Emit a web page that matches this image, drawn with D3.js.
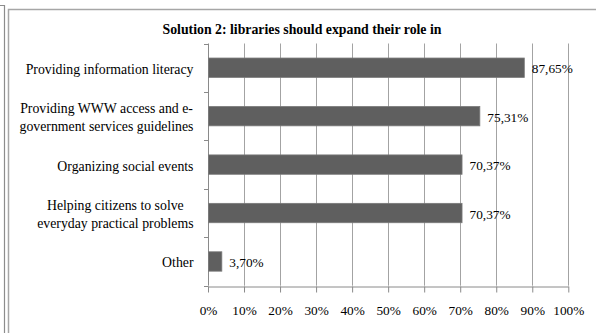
<!DOCTYPE html>
<html>
<head>
<meta charset="utf-8">
<script src="https://cdn.jsdelivr.net/npm/d3@7"></script>
<style>
  html, body { margin: 0; padding: 0; background: #fff; }
  svg { display: block; }
  text { font-family: "Liberation Serif", "Times New Roman", serif; fill: #000; }
</style>
</head>
<body>
<svg id="chart" width="596" height="333"></svg>
<script>
// Survey answers: share of respondents per proposed role
const title = "Solution 2: libraries should expand their role in";
const categories = [
  "Providing information literacy",
  "Providing WWW access and e-\ngovernment services guidelines",
  "Organizing social events",
  "Helping citizens to solve\neveryday practical problems",
  "Other"
];
const values = [0.8765, 0.7531, 0.7037, 0.7037, 0.0370];
const valueLabels = ["87,65%", "75,31%", "70,37%", "70,37%", "3,70%"];
const tickValues = [0, 0.1, 0.2, 0.3, 0.4, 0.5, 0.6, 0.7, 0.8, 0.9, 1.0];

const svg = d3.select("#chart");
const W = 596, H = 333;
const plot = { left: 208, right: 568.3, top: 43.5, bottom: 285.7 };
const serif = '"Liberation Serif", "Times New Roman", serif';

// Page frame lines
const frame = svg.append("g").attr("fill", "none");
frame.append("path").attr("d", `M0,5.5H4.5V${H}`).attr("stroke", "#8c8c8c").attr("stroke-width", 1.2);
frame.append("path").attr("d", `M8.5,${H}V9.5H${W}`).attr("stroke", "#a6a6a6").attr("stroke-width", 1.5);

const x = d3.scaleLinear().domain([0, 1]).range([plot.left, plot.right]);
const y = d3.scaleBand().domain(categories).range([plot.top, plot.bottom])
  .paddingInner(0.6).paddingOuter(0.3);

// Title
svg.append("text")
  .attr("x", 302).attr("y", 34)
  .attr("text-anchor", "middle")
  .style("font-size", "13.8px").style("font-weight", "bold")
  .text(title);

// Vertical gridlines
svg.append("g").selectAll("line").data(tickValues.slice(1)).join("line")
  .attr("x1", d => Math.round(x(d)) + 0.5).attr("x2", d => Math.round(x(d)) + 0.5)
  .attr("y1", plot.top).attr("y2", plot.bottom)
  .attr("stroke", "#a3a3a3").attr("stroke-width", 1);

// Bottom axis
const xAxis = d3.axisBottom(x).tickValues(tickValues).tickFormat(d3.format(".0%"))
  .tickSizeInner(6).tickSizeOuter(0).tickPadding(13);
const gx = svg.append("g").attr("transform", `translate(0,${Math.round(plot.bottom) + 0.5})`).call(xAxis);
gx.attr("font-family", null);
gx.select(".domain").attr("stroke", "#8a8a8a");
gx.selectAll(".tick line").attr("stroke", "#8a8a8a");
gx.selectAll(".tick text").style("font-size", "13.3px").style("font-family", serif);

// Left axis line with ticks at category boundaries
const step = y.step();
const bounds = categories.map(c => y(c) - step * y.paddingInner() / 2).concat([plot.bottom]);
const gy = svg.append("g").attr("stroke", "#8a8a8a").attr("stroke-width", 1);
gy.append("line").attr("x1", plot.left + 0.5).attr("x2", plot.left + 0.5)
  .attr("y1", plot.top).attr("y2", plot.bottom);
gy.selectAll("line.t").data(bounds).join("line").attr("class", "t")
  .attr("x1", plot.left - 4).attr("x2", plot.left + 0.5)
  .attr("y1", d => Math.round(d) + 0.5).attr("y2", d => Math.round(d) + 0.5);

// Bars
svg.append("g").selectAll("rect").data(values).join("rect")
  .attr("x", x(0) + 0.5)
  .attr("y", (d, i) => y(categories[i]))
  .attr("width", d => x(d) - x(0))
  .attr("height", y.bandwidth())
  .attr("fill", "#5f5f5f")
  .attr("stroke", "#7a7a7a").attr("stroke-width", 0.8);

// Value labels
svg.append("g").selectAll("text").data(values).join("text")
  .attr("x", d => x(d) + 8)
  .attr("y", (d, i) => y(categories[i]) + y.bandwidth() / 2 + 1)
  .attr("dominant-baseline", "central")
  .style("font-size", "13.3px")
  .text((d, i) => valueLabels[i]);

// Category labels: lines centred on each other, block right-aligned
const labelRight = 193.5;
const lineGap = 17.5;
categories.forEach(c => {
  const lines = c.split("\n");
  const g = svg.append("g");
  const cy = y(c) + y.bandwidth() / 2 + 1.5;
  const texts = lines.map((ln, i) => g.append("text")
    .attr("y", cy + (i - (lines.length - 1) / 2) * lineGap)
    .attr("dominant-baseline", "central")
    .style("font-size", "13.8px")
    .text(ln));
  const widths = texts.map(t => t.node().getComputedTextLength());
  const maxW = d3.max(widths);
  const mid = labelRight - maxW / 2;
  texts.forEach(t => t.attr("x", mid).attr("text-anchor", "middle"));
});
</script>
</body>
</html>
